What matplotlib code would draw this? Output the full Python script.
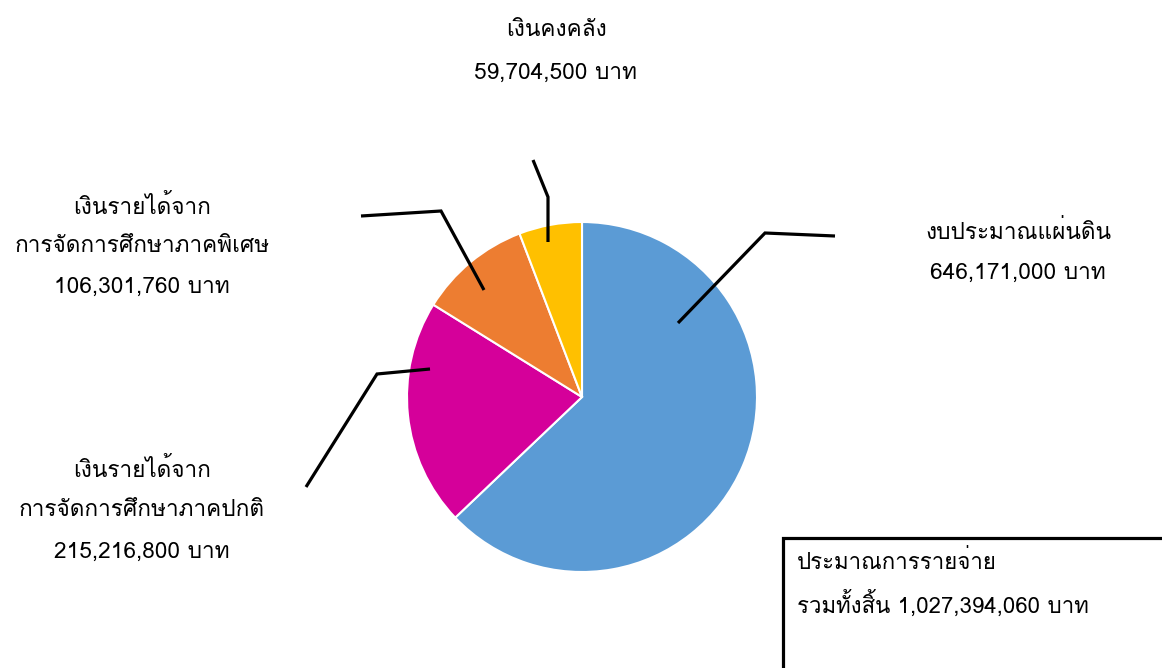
import sys
import matplotlib
matplotlib.use('Agg')
import matplotlib.pyplot as plt
from matplotlib import font_manager as fm
from matplotlib.ft2font import FT2Font
from matplotlib.patches import Rectangle

# Budget breakdown (baht)
labels = ['งบประมาณแผ่นดิน',
          'เงินรายได้จาก\nการจัดการศึกษาภาคปกติ',
          'เงินรายได้จาก\nการจัดการศึกษาภาคพิเศษ',
          'เงินคงคลัง']
values = [646171000, 215216800, 106301760, 59704500]
colors = ['#5B9BD5', '#D5009A', '#ED7D31', '#FFC000']
total_text = 'ประมาณการรายจ่าย\nรวมทั้งสิ้น 1,027,394,060 บาท'


def find_thai_font():
    found = []
    for f in fm.fontManager.ttflist:
        try:
            cmap = FT2Font(f.fname).get_charmap()
        except Exception:
            continue
        if 0x0E07 in cmap and 0x0E19 in cmap:
            found.append(f.name)
    print('thai fonts:', sorted(set(found)), file=sys.stderr)
    return found[0] if found else None


thai = find_thai_font()
fams = [thai, 'DejaVu Sans'] if thai else ['DejaVu Sans']
plt.rcParams['font.family'] = fams

W, H = 1162, 668
fig = plt.figure(figsize=(W / 100, H / 100), dpi=100)
ax = fig.add_axes([0, 0, 1, 1])


def Y(y):
    return H - y


cx, cy, r = 582, 397, 175
ax.pie(values, colors=colors, startangle=90, counterclock=False,
       center=(cx, Y(cy)), radius=r, frame=True,
       wedgeprops=dict(edgecolor='white', linewidth=1.5))
ax.set_xlim(0, W)
ax.set_ylim(0, H)
ax.set_aspect('equal')
ax.axis('off')

# leader lines (image pixel coords)
leaders = [[(678, 323), (765, 233), (835, 236)],
           [(430, 369), (377, 374), (306, 487)],
           [(484, 290), (441, 211), (361, 216)],
           [(548, 242), (548, 197), (533, 160)]]
for pts in leaders:
    ax.plot([p[0] for p in pts], [Y(p[1]) for p in pts], color='black',
            lw=2.3, solid_joinstyle='miter', solid_capstyle='butt')

# label positions: centre x, first line y, line gap
label_pos = [(1018, 232, 41), (142, 470, 41), (142, 207, 40), (556, 30, 43)]
fs = 16.3
for lab, val, (x, y0, gap) in zip(labels, values, label_pos):
    lines = lab.split('\n') + ['{:,} บาท'.format(val)]
    for i, t in enumerate(lines):
        ax.text(x, Y(y0 + i * gap), t, ha='center', va='center', fontsize=fs,
                color='black')

# total box
ax.add_patch(Rectangle((783, Y(700)), 420, 700 - 538, fill=False,
                       edgecolor='black', lw=2.3, clip_on=False))
for i, t in enumerate(total_text.split('\n')):
    ax.text(797, Y(562 + i * 42), t, ha='left', va='center', fontsize=16,
            color='black')

fig.savefig('out.png', dpi=100)
